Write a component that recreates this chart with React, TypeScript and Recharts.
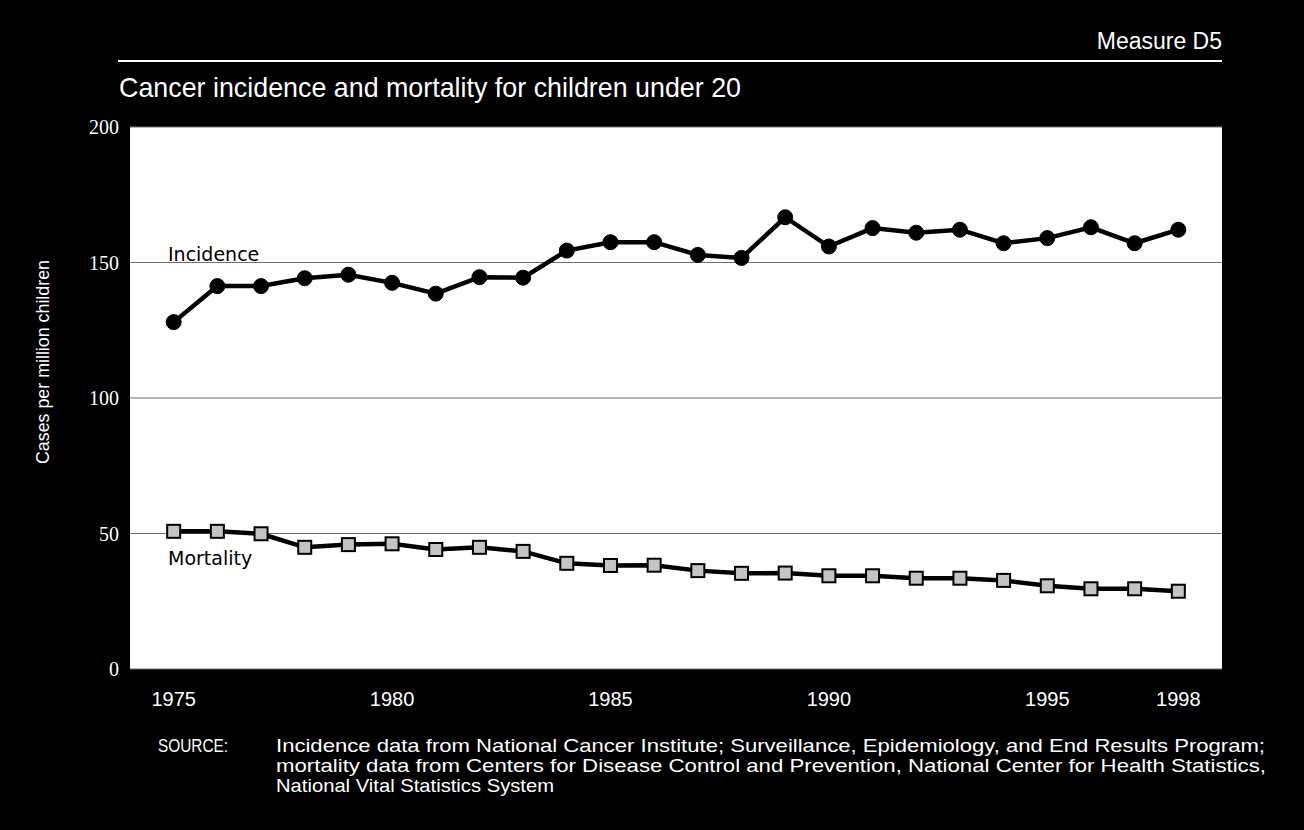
import { LineChart, Line, XAxis, YAxis, CartesianGrid, ReferenceLine } from 'recharts';

// years shown on the chart
const years = [
  1975, 1976, 1977, 1978, 1979, 1980, 1981, 1982, 1983, 1984, 1985, 1986,
  1987, 1988, 1989, 1990, 1991, 1992, 1993, 1994, 1995, 1996, 1997, 1998,
];

// cases per million children
const incidence = [
  128.0, 141.3, 141.3, 144.2, 145.5, 142.5, 138.5, 144.6, 144.4, 154.4, 157.5, 157.5,
  152.8, 151.7, 166.7, 155.9, 162.7, 161.0, 162.1, 157.1, 159.0, 163.0, 157.1, 162.1,
];
const mortality = [
  50.8, 50.8, 49.9, 44.9, 45.9, 46.2, 44.1, 44.9, 43.4, 39.0, 38.2, 38.3,
  36.3, 35.3, 35.4, 34.4, 34.4, 33.5, 33.5, 32.7, 30.7, 29.6, 29.6, 28.7,
];

const xTicks = [1975, 1980, 1985, 1990, 1995, 1998];
const yTicks = [0, 50, 100, 150, 200];

const sourceLines = [
  'Incidence data from National Cancer Institute; Surveillance, Epidemiology, and End Results Program;',
  'mortality data from Centers for Disease Control and Prevention, National Center for Health Statistics,',
  'National Vital Statistics System',
];

const SANS = "'Liberation Sans', Arial, sans-serif";
const SERIF = "'Liberation Serif', 'Times New Roman', serif";
const LABEL_FONT = "'DejaVu Sans', sans-serif";

const data = years.map((year, i) => ({
  year,
  incidence: incidence[i],
  mortality: mortality[i],
}));

// square marker with a light grey fill for mortality
const SquareDot = (props: any) => {
  const { cx, cy, index } = props;
  if (cx == null || cy == null) return null;
  return (
    <rect
      key={`sq-${index}`}
      x={cx - 6.5}
      y={cy - 6.5}
      width={13}
      height={13}
      fill="#c4c4c4"
      stroke="#000"
      strokeWidth={2}
    />
  );
};

const XTick = ({ x, y, payload }: any) => (
  <text x={x} y={y + 35} textAnchor="middle" fill="#fff" fontSize={20} fontFamily={SANS}>
    {payload.value}
  </text>
);

const YTick = ({ x, y, payload }: any) => (
  <text x={x - 9} y={y + 7} textAnchor="end" fill="#fff" fontSize={20} fontFamily={SERIF}>
    {payload.value}
  </text>
);

const seriesLabel = (text: string, dy: number) => (props: any) => {
  const vb = props.viewBox || {};
  return (
    <text x={vb.x + 38} y={vb.y + dy} fill="#000" fontSize={19} fontFamily={LABEL_FONT}>
      {text}
    </text>
  );
};

export default function App() {
  return (
    <div
      style={{
        position: 'absolute',
        left: 0,
        top: 0,
        width: 1304,
        height: 830,
        background: '#000',
        overflow: 'hidden',
      }}
    >
      {/* header and source notes */}
      <svg width={1304} height={830} style={{ position: 'absolute', left: 0, top: 0 }}>
        <text x={1222} y={49} textAnchor="end" fill="#fff" fontSize={23} fontFamily={SANS}>
          Measure D5
        </text>
        <line x1={118} y1={61} x2={1222} y2={61} stroke="#fff" strokeWidth={2} />
        <text x={119} y={97} fill="#fff" fontSize={28} fontFamily={SANS} textLength={622} lengthAdjust="spacingAndGlyphs">
          Cancer incidence and mortality for children under 20
        </text>
        <text x={158} y={752} fill="#fff" fontSize={19} fontFamily={SANS} textLength={70} lengthAdjust="spacingAndGlyphs">
          SOURCE:
        </text>
        <text x={276} y={752} fill="#fff" fontSize={19} fontFamily={SANS} textLength={989} lengthAdjust="spacingAndGlyphs">
          {sourceLines[0]}
        </text>
        <text x={276} y={772} fill="#fff" fontSize={19} fontFamily={SANS} textLength={990} lengthAdjust="spacingAndGlyphs">
          {sourceLines[1]}
        </text>
        <text x={276} y={792} fill="#fff" fontSize={19} fontFamily={SANS} textLength={278} lengthAdjust="spacingAndGlyphs">
          {sourceLines[2]}
        </text>
      </svg>

      <div style={{ position: 'absolute', left: 0, top: 0 }}>
        <LineChart
          width={1304}
          height={830}
          data={data}
          margin={{ top: 127, right: 82, left: 70, bottom: 131 }}
        >
          <CartesianGrid vertical={false} fill="#fff" stroke="#6e6e6e" strokeWidth={1.2} />
          <XAxis
            dataKey="year"
            type="number"
            domain={[1974, 1999]}
            ticks={xTicks}
            height={30}
            axisLine={false}
            tickLine={false}
            tickSize={0}
            tick={<XTick />}
            interval={0}
          />
          <YAxis
            domain={[0, 200]}
            ticks={yTicks}
            width={60}
            axisLine={false}
            tickLine={false}
            tickSize={0}
            tick={<YTick />}
            interval={0}
            label={{
              content: () => (
                <text
                  x={0}
                  y={0}
                  transform="translate(49, 362) rotate(-90)"
                  textAnchor="middle"
                  fill="#fff"
                  fontSize={19}
                  fontFamily={SANS}
                  textLength={204}
                  lengthAdjust="spacingAndGlyphs"
                >
                  Cases per million children
                </text>
              ),
            }}
          />
          <ReferenceLine y={150} stroke="none" label={{ content: seriesLabel('Incidence', -2) }} />
          <ReferenceLine y={50} stroke="none" label={{ content: seriesLabel('Mortality', 31) }} />
          <Line
            dataKey="incidence"
            stroke="#000"
            strokeWidth={4.5}
            dot={{ r: 7.5, fill: '#000', stroke: '#000', strokeWidth: 1 }}
            isAnimationActive={false}
          />
          <Line
            dataKey="mortality"
            stroke="#000"
            strokeWidth={4.5}
            dot={<SquareDot />}
            isAnimationActive={false}
          />
        </LineChart>
      </div>
    </div>
  );
}
